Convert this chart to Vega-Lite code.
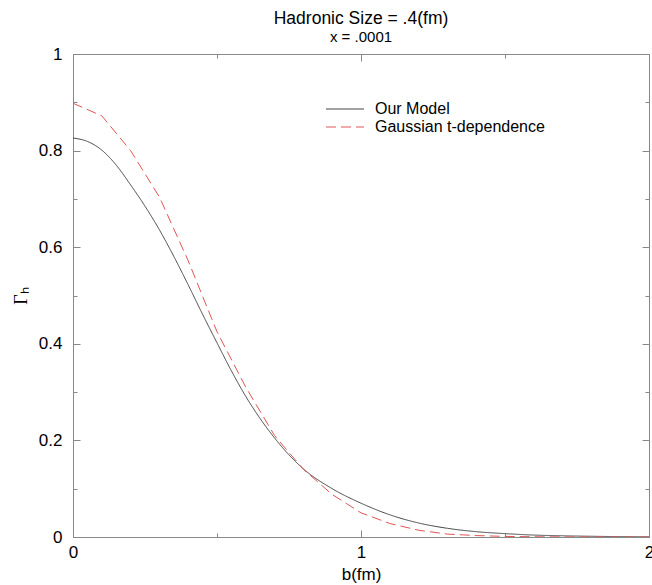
{
  "$schema": "https://vega.github.io/schema/vega-lite/v6.json",
  "autosize": "none",
  "width": 576,
  "height": 483,
  "padding": {"left": 73, "top": 54, "right": 3, "bottom": 48},
  "background": "white",
  "title": {
    "text": "Hadronic Size = .4(fm)",
    "subtitle": "x = .0001",
    "anchor": "middle",
    "font": "Liberation Sans",
    "fontSize": 17.5,
    "fontWeight": "normal",
    "color": "black",
    "subtitleFont": "Liberation Sans",
    "subtitleFontSize": 15,
    "subtitleColor": "black",
    "subtitlePadding": 3,
    "offset": 0
  },
  "config": {
    "view": {"stroke": "#888", "strokeWidth": 1},
    "axis": {
      "grid": false,
      "zindex": 1,
      "domainColor": "#888",
      "tickColor": "#888",
      "labelFont": "Liberation Sans",
      "labelFontSize": 17,
      "labelColor": "black",
      "titleFont": "Liberation Sans",
      "titleFontSize": 17,
      "titleFontWeight": "normal",
      "titleColor": "black"
    }
  },
  "data": {
    "values": [
      {"b": 0.0, "g": 0.826, "s": "Our Model"},
      {"b": 0.05, "g": 0.819, "s": "Our Model"},
      {"b": 0.1, "g": 0.801, "s": "Our Model"},
      {"b": 0.15, "g": 0.77, "s": "Our Model"},
      {"b": 0.2, "g": 0.729, "s": "Our Model"},
      {"b": 0.25, "g": 0.685, "s": "Our Model"},
      {"b": 0.3, "g": 0.636, "s": "Our Model"},
      {"b": 0.35, "g": 0.581, "s": "Our Model"},
      {"b": 0.4, "g": 0.522, "s": "Our Model"},
      {"b": 0.45, "g": 0.461, "s": "Our Model"},
      {"b": 0.5, "g": 0.402, "s": "Our Model"},
      {"b": 0.55, "g": 0.344, "s": "Our Model"},
      {"b": 0.6, "g": 0.291, "s": "Our Model"},
      {"b": 0.65, "g": 0.245, "s": "Our Model"},
      {"b": 0.7, "g": 0.205, "s": "Our Model"},
      {"b": 0.75, "g": 0.17, "s": "Our Model"},
      {"b": 0.8, "g": 0.141, "s": "Our Model"},
      {"b": 0.9, "g": 0.1, "s": "Our Model"},
      {"b": 1.0, "g": 0.07, "s": "Our Model"},
      {"b": 1.1, "g": 0.046, "s": "Our Model"},
      {"b": 1.2, "g": 0.029, "s": "Our Model"},
      {"b": 1.3, "g": 0.018, "s": "Our Model"},
      {"b": 1.4, "g": 0.011, "s": "Our Model"},
      {"b": 1.5, "g": 0.007, "s": "Our Model"},
      {"b": 1.6, "g": 0.004, "s": "Our Model"},
      {"b": 1.7, "g": 0.0025, "s": "Our Model"},
      {"b": 1.8, "g": 0.0015, "s": "Our Model"},
      {"b": 1.9, "g": 0.0008, "s": "Our Model"},
      {"b": 2.0, "g": 0.0004, "s": "Our Model"},
      {"b": 0.0, "g": 0.898, "s": "Gaussian t-dependence"},
      {"b": 0.1, "g": 0.872, "s": "Gaussian t-dependence"},
      {"b": 0.2, "g": 0.8, "s": "Gaussian t-dependence"},
      {"b": 0.3, "g": 0.704, "s": "Gaussian t-dependence"},
      {"b": 0.4, "g": 0.572, "s": "Gaussian t-dependence"},
      {"b": 0.5, "g": 0.425, "s": "Gaussian t-dependence"},
      {"b": 0.6, "g": 0.31, "s": "Gaussian t-dependence"},
      {"b": 0.7, "g": 0.21, "s": "Gaussian t-dependence"},
      {"b": 0.8, "g": 0.14, "s": "Gaussian t-dependence"},
      {"b": 0.9, "g": 0.088, "s": "Gaussian t-dependence"},
      {"b": 1.0, "g": 0.05, "s": "Gaussian t-dependence"},
      {"b": 1.1, "g": 0.028, "s": "Gaussian t-dependence"},
      {"b": 1.2, "g": 0.014, "s": "Gaussian t-dependence"},
      {"b": 1.3, "g": 0.006, "s": "Gaussian t-dependence"},
      {"b": 1.4, "g": 0.003, "s": "Gaussian t-dependence"},
      {"b": 1.5, "g": 0.0012, "s": "Gaussian t-dependence"},
      {"b": 1.6, "g": 0.0005, "s": "Gaussian t-dependence"},
      {"b": 1.7, "g": 0.0002, "s": "Gaussian t-dependence"},
      {"b": 1.8, "g": 0.0001, "s": "Gaussian t-dependence"},
      {"b": 1.9, "g": 0.0, "s": "Gaussian t-dependence"},
      {"b": 2.0, "g": 0.0, "s": "Gaussian t-dependence"}
    ]
  },
  "resolve": {"axis": {"x": "independent", "y": "independent"}},
  "layer": [
    {
      "transform": [{"filter": "datum.s === 'Our Model'"}],
      "mark": {"type": "line", "strokeWidth": 1, "interpolate": "monotone", "clip": true},
      "encoding": {
        "x": {
          "field": "b", "type": "quantitative",
          "scale": {"domain": [0, 2], "nice": false},
          "axis": {
            "orient": "bottom",
            "values": [0, 0.5, 1, 1.5, 2],
            "title": "b(fm)",
            "titlePadding": 3,
            "labelPadding": 14,
            "labelFlush": false,
            "labelOverlap": false,
            "labelExpr": "datum.value % 1 === 0 ? format(datum.value, 'd') : ''",
            "tickSize": {"condition": {"test": "datum.value % 1 === 0", "value": -7}, "value": -4}
          }
        },
        "y": {
          "field": "g", "type": "quantitative",
          "scale": {"domain": [0, 1], "nice": false},
          "axis": {
            "orient": "left",
            "values": [0, 0.1, 0.2, 0.3, 0.4, 0.5, 0.6, 0.7, 0.8, 0.9, 1],
            "title": "Γₕ",
            "titleFont": "Liberation Serif",
            "titleFontSize": 18,
            "titlePadding": 8,
            "labelPadding": 18,
            "labelFlush": false,
            "labelOverlap": false,
            "labelExpr": "abs(datum.value * 5 - round(datum.value * 5)) < 0.000001 ? format(datum.value, '.1~f') : ''",
            "tickSize": {"condition": {"test": "abs(datum.value * 5 - round(datum.value * 5)) < 0.000001", "value": -7}, "value": -4}
          }
        },
        "color": {
          "field": "s", "type": "nominal",
          "scale": {"domain": ["Our Model", "Gaussian t-dependence"], "range": ["#444444", "#e05555"]},
          "legend": {
            "orient": "none",
            "legendX": 262,
            "legendY": 45,
            "title": null,
            "symbolType": "M-2,0H2",
            "symbolSize": 361,
            "symbolStrokeWidth": 1,
            "labelFont": "Liberation Sans",
            "labelFontSize": 16,
            "labelColor": "black",
            "labelOffset": 20,
            "labelLimit": 400,
            "rowPadding": 0,
            "padding": 0
          }
        },
        "strokeDash": {
          "field": "s", "type": "nominal",
          "scale": {"domain": ["Our Model", "Gaussian t-dependence"], "range": [[1, 0], [10, 5]]},
          "legend": {
            "orient": "none",
            "legendX": 262,
            "legendY": 45,
            "title": null,
            "symbolType": "M-2,0H2",
            "symbolSize": 361,
            "symbolStrokeWidth": 1,
            "labelFont": "Liberation Sans",
            "labelFontSize": 16,
            "labelColor": "black",
            "labelOffset": 20,
            "labelLimit": 400,
            "rowPadding": 0,
            "padding": 0
          }
        }
      }
    },
    {
      "transform": [{"filter": "datum.s !== 'Our Model'"}],
      "mark": {"type": "line", "strokeWidth": 1, "clip": true},
      "encoding": {
        "x": {
          "field": "b", "type": "quantitative",
          "axis": {
            "orient": "top",
            "values": [0, 0.5, 1, 1.5, 2],
            "title": null,
            "labels": false,
            "tickSize": {"condition": {"test": "datum.value % 1 === 0", "value": -7}, "value": -4}
          }
        },
        "y": {
          "field": "g", "type": "quantitative",
          "axis": {
            "orient": "right",
            "values": [0, 0.1, 0.2, 0.3, 0.4, 0.5, 0.6, 0.7, 0.8, 0.9, 1],
            "title": null,
            "labels": false,
            "tickSize": {"condition": {"test": "abs(datum.value * 5 - round(datum.value * 5)) < 0.000001", "value": -7}, "value": -4}
          }
        },
        "color": {"field": "s", "type": "nominal"},
        "strokeDash": {"field": "s", "type": "nominal"}
      }
    }
  ]
}
